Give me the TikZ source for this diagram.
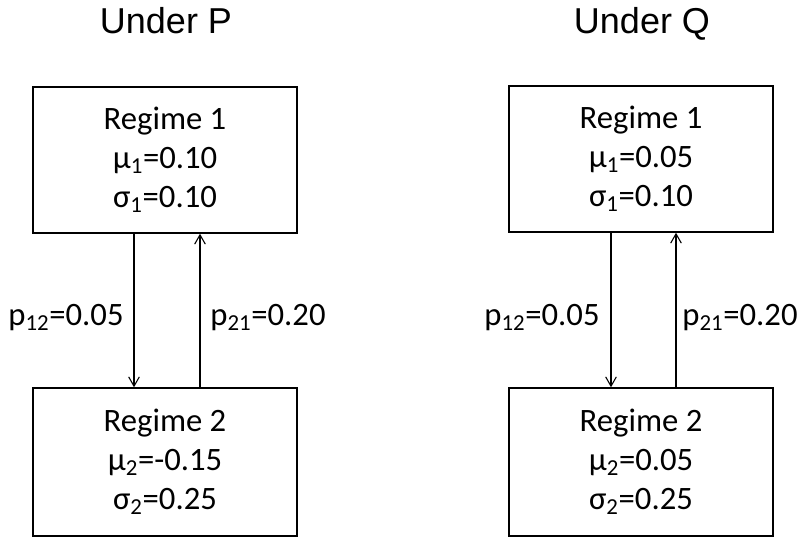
\documentclass[tikz,border=0pt]{standalone}
\usepackage{fontspec}
\setmainfont{Carlito}
\newfontfamily\titlefont{Liberation Sans}
\usetikzlibrary{arrows.meta}
\begin{document}
\begin{tikzpicture}[x=0.75pt,y=-0.75pt,
  regbox/.style={draw,line width=1.1pt,minimum width=198pt,minimum height=109.5pt,inner sep=0pt,align=center,font=\fontsize{24.5}{29.3}\selectfont},
  ttl/.style={font=\titlefont\fontsize{27}{31}\selectfont,inner sep=0pt,anchor=base},
  lbl/.style={font=\fontsize{24.5}{29.3}\selectfont,inner sep=0pt},
  arr/.style={line width=0.8pt,-{Straight Barb[length=7pt,width=8pt,line width=0.8pt]}}]
\useasboundingbox (0,0) rectangle (804,537);
% Left: Under P
\node[ttl] (tP) at (166,33.5) {Under P};
\node[regbox] (P1) at (165,160) {Regime 1\\μ\textsubscript{1}=0.10\\σ\textsubscript{1}=0.10};
\node[regbox,minimum height=111pt] (P2) at (165,462) {Regime 2\\μ\textsubscript{2}=-0.15\\σ\textsubscript{2}=0.25};
\draw[arr] ([xshift=-23.25pt]P1.south) -- ([xshift=-23.25pt]P2.north);
\draw[arr] ([xshift=26.25pt]P2.north) -- ([xshift=26.25pt]P1.south);
\node[lbl] (pP12) at (66,318) {p\textsubscript{12}=0.05};
\node[lbl] (pP21) at (268,318) {p\textsubscript{21}=0.20};
% Right: Under Q
\node[ttl] (tQ) at (642,33.5) {Under Q};
\node[regbox] (Q1) at (641,159) {Regime 1\\μ\textsubscript{1}=0.05\\σ\textsubscript{1}=0.10};
\node[regbox,minimum height=111pt] (Q2) at (641,462) {Regime 2\\μ\textsubscript{2}=0.05\\σ\textsubscript{2}=0.25};
\draw[arr] ([xshift=-22.5pt]Q1.south) -- ([xshift=-22.5pt]Q2.north);
\draw[arr] ([xshift=26.25pt]Q2.north) -- ([xshift=26.25pt]Q1.south);
\node[lbl] (pQ12) at (542,318) {p\textsubscript{12}=0.05};
\node[lbl] (pQ21) at (740,318) {p\textsubscript{21}=0.20};
\end{tikzpicture}
\end{document}
